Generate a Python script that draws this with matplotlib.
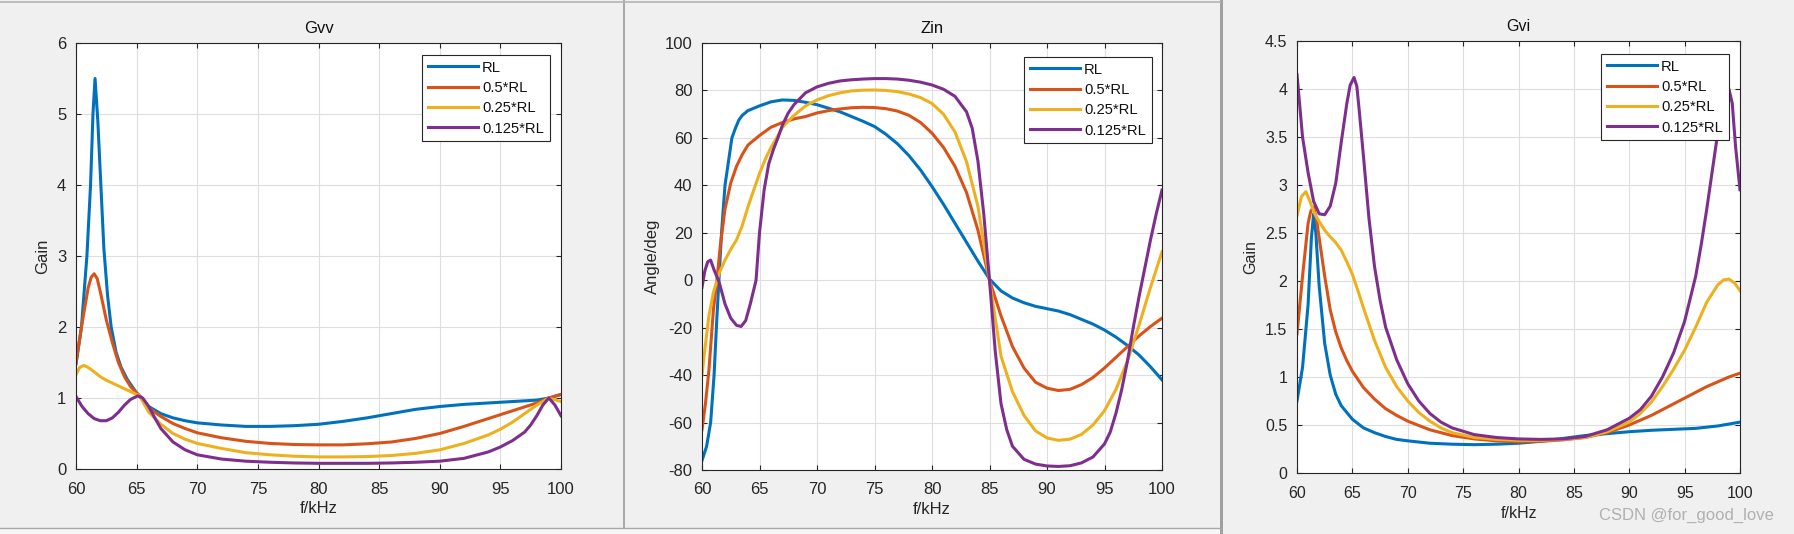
import matplotlib
matplotlib.use('Agg')
import matplotlib.pyplot as plt
from matplotlib.patches import Rectangle
from matplotlib.lines import Line2D
from matplotlib.ticker import FuncFormatter

plt.rcParams['font.family'] = ['Liberation Sans', 'DejaVu Sans']

labels = ['RL', '0.5*RL', '0.25*RL', '0.125*RL']
colors = ['#0072BD', '#D95319', '#EDB120', '#7E2F8E']

# ---- Gvv (gain) ----
gvv_rl_f = [60, 60.45, 60.9, 61.2, 61.4, 61.57, 61.8, 62.05, 62.3, 62.6, 62.9, 63.3, 63.7, 64.2, 65, 65.25, 66, 67, 68, 69,
            70, 72, 74, 76, 78, 80, 82, 84, 86, 88, 90, 92, 94, 96, 98, 99, 100]
gvv_rl = [1.48, 2.0, 3.0, 4.0, 5.0, 5.5, 4.9, 4.0, 3.1, 2.45, 2.0, 1.65, 1.44, 1.27, 1.07, 1.03, 0.88, 0.78, 0.72, 0.68,
          0.65, 0.62, 0.6, 0.6, 0.61, 0.63, 0.67, 0.72, 0.78, 0.84, 0.88, 0.91, 0.93, 0.95, 0.97, 1.0, 1.05]

gvv_05_f = [60, 60.5, 61, 61.25, 61.5, 61.75, 62, 62.5, 63, 63.5, 64, 64.5, 65, 65.25, 66, 67, 68, 69, 70, 72,
            74, 76, 78, 80, 82, 84, 86, 88, 90, 92, 94, 96, 98, 99, 100]
gvv_05 = [1.49, 2.05, 2.55, 2.7, 2.75, 2.68, 2.5, 2.1, 1.78, 1.5, 1.3, 1.16, 1.07, 1.03, 0.86, 0.74, 0.64, 0.57, 0.51, 0.44,
          0.39, 0.36, 0.345, 0.34, 0.34, 0.355, 0.38, 0.43, 0.5, 0.6, 0.71, 0.82, 0.93, 1.0, 1.05]

gvv_025_f = [60, 60.3, 60.65, 61, 61.5, 62, 62.5, 63, 63.5, 64, 64.5, 65.25, 66, 67, 68, 69, 70, 72, 74, 76,
             78, 80, 82, 84, 86, 88, 90, 92, 94, 95, 96, 97, 98, 99, 100]
gvv_025 = [1.33, 1.43, 1.46, 1.43, 1.37, 1.3, 1.25, 1.21, 1.17, 1.13, 1.09, 1.03, 0.8, 0.63, 0.5, 0.42, 0.36, 0.29, 0.23, 0.2,
           0.18, 0.17, 0.17, 0.175, 0.19, 0.22, 0.27, 0.36, 0.48, 0.56, 0.66, 0.78, 0.9, 1.0, 0.95]

gvv_0125_f = [60, 60.5, 61, 61.5, 62, 62.5, 63, 63.5, 64, 64.5, 65.1, 65.5, 66, 66.5, 67, 68, 69, 70, 72, 74,
              76, 78, 80, 82, 84, 86, 88, 90, 92, 94, 95, 96, 97, 97.5, 98, 98.5, 99, 99.5, 100]
gvv_0125 = [1.02, 0.88, 0.78, 0.71, 0.68, 0.68, 0.72, 0.8, 0.9, 0.98, 1.03, 1.0, 0.88, 0.72, 0.57, 0.38, 0.27, 0.2, 0.14, 0.11,
            0.095, 0.085, 0.08, 0.08, 0.08, 0.085, 0.095, 0.11, 0.15, 0.24, 0.31, 0.4, 0.52, 0.62, 0.75, 0.9, 1.0, 0.9, 0.75]

# ---- Zin (angle) ----
zin_rl_f = [60, 60.4, 60.75, 61.05, 61.25, 61.47, 61.7, 62, 62.6, 62.9, 63.2, 63.5, 64, 65, 66, 67, 68, 69, 70, 71,
            72, 73, 74, 75, 76, 77, 78, 79, 80, 81, 82, 83, 84, 85, 86, 87, 88, 89, 90, 91,
            92, 93, 94, 95, 96, 97, 98, 99, 100]
zin_rl = [-76, -70, -60, -40, -20, 0, 20, 40, 60, 64, 67.5, 69.5, 71.5, 73.5, 75.2, 76, 75.8, 75, 74, 72.5,
          71, 69, 67, 64.8, 61.5, 57.5, 52.5, 46.5, 39.5, 32, 24, 16, 8, 0.5, -4.5, -7.5, -9.5, -11, -12, -13,
          -14.5, -16.5, -18.5, -21, -24, -27.5, -31.5, -36.5, -42]

zin_05_f = [60, 60.3, 60.6, 61, 61.3, 61.6, 62, 62.5, 63, 63.5, 64, 65, 66, 67, 68, 69, 70, 71, 72, 73,
            74, 75, 76, 77, 78, 79, 80, 81, 82, 83, 84, 85, 86, 87, 88, 89, 90, 91, 92, 93,
            94, 95, 96, 97, 98, 99, 100]
zin_05 = [-63, -52, -38, -12, 0, 15, 30, 41, 48, 53, 57, 61, 64.5, 66.5, 68, 69, 70.5, 71.5, 72.2, 72.7,
          72.9, 72.8, 72.3, 71.3, 69.5, 66.5, 62, 56, 48, 37, 21, 0, -15, -28, -37, -43, -45.5, -46.5, -46, -44,
          -41, -37, -32.5, -28, -23.5, -19.5, -16]

zin_025_f = [60, 60.3, 60.6, 61, 61.5, 62, 62.5, 63, 63.5, 64, 64.5, 65, 65.5, 66, 66.5, 67, 68, 69, 70, 71,
             72, 73, 74, 75, 76, 77, 78, 79, 80, 81, 82, 83, 84, 85, 86, 87, 88, 89, 90, 91,
             92, 93, 94, 95, 96, 97, 98, 99, 100]
zin_025 = [-40, -27, -15, -5, 3, 8.5, 13, 17, 23, 31, 38, 45, 51, 56, 60, 64.5, 69.5, 73.5, 76, 77.8,
           79, 79.8, 80.1, 80.2, 80, 79.5, 78.5, 77, 74.5, 70, 62.5, 50, 31, 0, -32, -47, -57, -63.5, -66.5, -67.5,
           -67, -65, -61, -55, -46, -34, -19, -3, 12]

zin_0125_f = [60, 60.25, 60.5, 60.75, 61, 61.5, 62, 62.5, 63, 63.4, 63.8, 64.2, 64.7, 65, 65.4, 65.8, 66.2, 66.6, 67, 67.5,
              68, 69, 70, 71, 72, 73, 74, 75, 76, 77, 78, 79, 80, 81, 82, 83, 83.5, 84, 84.5, 85,
              85.5, 86, 86.5, 87, 88, 89, 90, 91, 92, 93, 94, 95, 95.5, 96, 96.5, 97, 97.5, 98, 98.5, 99,
              99.5, 100]
zin_0125 = [-3, 4, 7.8, 8.5, 5, -1, -10, -16, -19, -19.5, -17, -10, 0, 20, 38, 49, 55, 60, 65.5, 70.5,
            74, 79, 81.5, 83, 84, 84.5, 84.8, 85, 85, 84.8, 84.3, 83.5, 82.3, 80.5, 77.5, 71, 64, 50, 28, 0,
            -30, -52, -63, -70, -75.5, -77.5, -78.3, -78.5, -78.2, -77, -74.5, -69, -64, -56, -46, -34, -20, -7, 5, 17,
            28, 38]

# ---- Gvi (gain) ----
gvi_rl_f = [60, 60.5, 61, 61.3, 61.5, 61.7, 62, 62.5, 63, 63.5, 64, 65, 66, 67, 68, 69, 70, 72, 74, 76,
            78, 80, 82, 84, 86, 88, 90, 92, 94, 96, 98, 100]
gvi_rl = [0.75, 1.1, 1.75, 2.45, 2.7, 2.5, 1.95, 1.35, 1.02, 0.82, 0.7, 0.56, 0.47, 0.42, 0.38, 0.35, 0.335, 0.31, 0.3, 0.295,
          0.3, 0.31, 0.33, 0.36, 0.39, 0.41, 0.43, 0.445, 0.455, 0.465, 0.49, 0.53]

gvi_05_f = [60, 60.5, 61, 61.25, 61.5, 61.75, 62, 62.5, 63, 63.5, 64, 64.5, 65, 66, 67, 68, 69, 70, 72, 74,
            76, 78, 80, 82, 84, 86, 88, 90, 92, 94, 95, 96, 97, 98, 99, 100]
gvi_05 = [1.45, 2.05, 2.6, 2.73, 2.77, 2.65, 2.45, 2.05, 1.7, 1.47, 1.3, 1.17, 1.06, 0.89, 0.77, 0.67, 0.6, 0.54, 0.45, 0.39,
          0.355, 0.335, 0.325, 0.33, 0.345, 0.37, 0.42, 0.5, 0.6, 0.72, 0.78, 0.84, 0.9, 0.95, 1.0, 1.04]

gvi_025_f = [60, 60.4, 60.8, 61.2, 61.6, 62, 62.5, 63, 63.5, 64, 64.5, 65, 65.5, 66, 66.5, 67, 68, 69, 70, 71,
             72, 73, 74, 76, 78, 80, 82, 84, 86, 88, 90, 91, 92, 93, 94, 95, 96, 97, 98, 98.5,
             99, 99.5, 100]
gvi_025 = [2.68, 2.88, 2.93, 2.82, 2.7, 2.62, 2.53, 2.46, 2.4, 2.32, 2.2, 2.07, 1.9, 1.72, 1.55, 1.38, 1.1, 0.9, 0.75, 0.63,
           0.54, 0.47, 0.42, 0.37, 0.35, 0.34, 0.34, 0.35, 0.37, 0.43, 0.53, 0.62, 0.74, 0.9, 1.08, 1.28, 1.52, 1.78, 1.96, 2.01,
           2.02, 1.98, 1.9]

gvi_0125_f = [60, 60.5, 61, 61.5, 62, 62.5, 63, 63.5, 64, 64.5, 64.8, 65.15, 65.4, 65.6, 66, 66.5, 67, 67.5, 68, 69,
              70, 71, 72, 73, 74, 76, 78, 80, 82, 84, 86, 88, 90, 91, 92, 93, 94, 95, 96, 96.5,
              97, 97.5, 98, 98.5, 99, 99.3, 99.6, 100]
gvi_0125 = [4.15, 3.5, 3.13, 2.83, 2.7, 2.69, 2.78, 3.02, 3.45, 3.85, 4.04, 4.12, 4.03, 3.8, 3.3, 2.65, 2.15, 1.8, 1.52, 1.18,
            0.93, 0.75, 0.62, 0.53, 0.47, 0.4, 0.37, 0.355, 0.35, 0.355, 0.38, 0.45, 0.57, 0.66, 0.8, 1.0, 1.25, 1.58, 2.05, 2.38,
            2.75, 3.15, 3.55, 3.9, 4.0, 3.85, 3.4, 2.95]

W, H = 1794, 534
fig = plt.figure(figsize=(W / 100, H / 100), dpi=100)
fig.patch.set_facecolor('white')


def px_rect(x0, y0, x1, y1, color):
    fig.patches.append(Rectangle((x0 / W, 1 - y1 / H), (x1 - x0) / W, (y1 - y0) / H,
                                 transform=fig.transFigure, facecolor=color, edgecolor='none', zorder=-2))


def px_line(x0, y0, x1, y1, color, lw=1.0):
    fig.add_artist(Line2D([x0 / W, x1 / W], [1 - y0 / H, 1 - y1 / H], transform=fig.transFigure,
                          color=color, lw=lw, zorder=-1))


# three screenshot windows
px_rect(0, 528, 1221, 534, '#f7f7f7')
px_rect(0, 0, 623, 528, '#f0f0f0')
px_rect(625, 0, 1220, 528, '#f0f0f0')
px_rect(1223, 0, 1794, 534, '#f0f0f0')
px_rect(623, 0, 625, 528, '#a9a9a9')
px_rect(1220, 0, 1223, 534, '#a0a0a0')
px_line(0, 1.5, 1220, 1.5, '#b4b4b4', 1.2)
px_line(0, 528, 1220, 528, '#a8a8a8', 1.0)


def make_panel(box, title, ylabel, ylim, yticks, fs, ylab_x, xlab_y):
    l, t, r, b = box
    ax = fig.add_axes([l / W, 1 - b / H, (r - l) / W, (b - t) / H])
    ax.set_facecolor('white')
    ax.set_xlim(60, 100)
    ax.set_ylim(*ylim)
    ax.set_xticks(range(60, 101, 5))
    ax.set_yticks(yticks)
    ax.yaxis.set_major_formatter(FuncFormatter(lambda v, p: f'{v:g}'))
    ax.grid(True, color='#dedede', lw=0.8)
    ax.set_axisbelow(True)
    for s in ax.spines.values():
        s.set_color('#262626')
        s.set_linewidth(0.8)
    ax.tick_params(direction='in', top=True, right=True, length=3.5, width=0.8,
                   colors='#262626', labelsize=fs, pad=7)
    ax.tick_params(axis='x', pad=9)
    ax.set_title(title, fontsize=fs, color='#111111', pad=7)
    ax.set_xlabel('f/kHz', fontsize=fs, color='#262626', va='top')
    ax.set_ylabel(ylabel, fontsize=fs, color='#262626')
    ax.xaxis.set_label_coords(0.5, (b - xlab_y) / (b - t), transform=ax.transAxes)
    ax.yaxis.set_label_coords((ylab_x - l) / (r - l), 0.5, transform=ax.transAxes)
    return ax


def add_legend(ax, leg_xy, fs):
    leg = ax.legend(loc='upper left', bbox_to_anchor=(leg_xy[0] / W, 1 - leg_xy[1] / H),
                    bbox_transform=fig.transFigure, fontsize=fs, fancybox=False,
                    edgecolor='#262626', framealpha=1, borderpad=0.38, handlelength=3.4,
                    handletextpad=0.3, labelspacing=0.43, borderaxespad=0)
    leg.get_frame().set_linewidth(0.8)
    for txt in leg.get_texts():
        txt.set_color('#111111')


ax1 = make_panel((76, 43, 561, 469), 'Gvv', 'Gain', (0, 6), range(0, 7), 12, 50, 501)
for f, g, c, lab in zip([gvv_rl_f, gvv_05_f, gvv_025_f, gvv_0125_f],
                        [gvv_rl, gvv_05, gvv_025, gvv_0125], colors, labels):
    ax1.plot(f, g, color=c, lw=2.2, label=lab)
add_legend(ax1, (422, 55), 10.6)

ax2 = make_panel((702, 43, 1162, 470), 'Zin', 'Angle/deg', (-80, 100), range(-80, 101, 20), 12, 660, 502)
for f, g, c, lab in zip([zin_rl_f, zin_05_f, zin_025_f, zin_0125_f],
                        [zin_rl, zin_05, zin_025, zin_0125], colors, labels):
    ax2.plot(f, g, color=c, lw=2.2, label=lab)
add_legend(ax2, (1024, 57), 10.6)

ax3 = make_panel((1297, 41, 1740, 473), 'Gvi', 'Gain', (0, 4.5), [i * 0.5 for i in range(10)], 11.5, 1258, 506)
for f, g, c, lab in zip([gvi_rl_f, gvi_05_f, gvi_025_f, gvi_0125_f],
                        [gvi_rl, gvi_05, gvi_025, gvi_0125], colors, labels):
    ax3.plot(f, g, color=c, lw=2.2, label=lab)
add_legend(ax3, (1601, 54), 10.6)

fig.text(1686 / W, 1 - 515 / H, 'CSDN @for_good_love', fontsize=12, color='#b0b0b0',
         ha='center', va='center')

fig.savefig('out.png', dpi=100)
